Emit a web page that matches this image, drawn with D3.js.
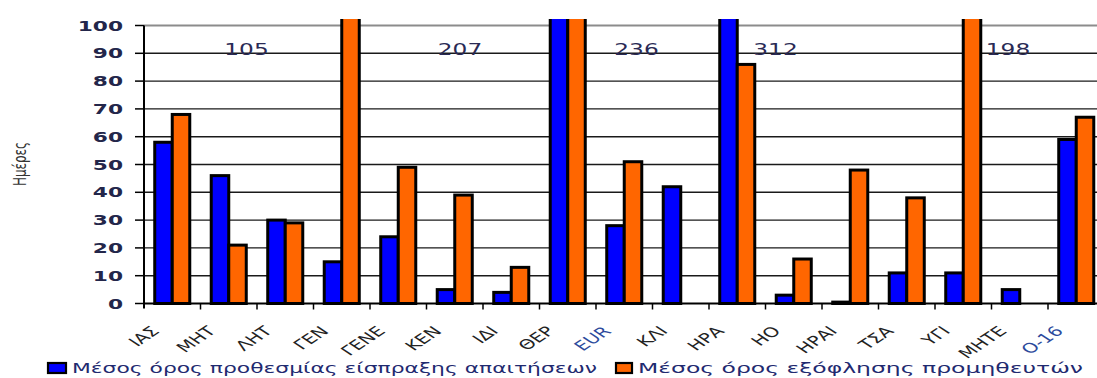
<!DOCTYPE html>
<html>
<head>
<meta charset="utf-8">
<script src="https://cdn.jsdelivr.net/npm/d3@7"></script>
<style>
  html, body { margin: 0; padding: 0; background: #fff; }
  svg { display: block; }
</style>
</head>
<body>
<svg id="chart" width="1097" height="378"></svg>
<script>
// Categories (companies) and the two series, in days
const categories = ["ΙΑΣ", "ΜΗΤ", "ΛΗΤ", "ΓΕΝ", "ΓΕΝΕ", "ΚΕΝ", "ΙΔΙ", "ΘΕΡ", "EUR", "ΚΛΙ",
                    "ΗΡΑ", "ΗΟ", "ΗΡΑΙ", "ΤΣΑ", "ΥΓΙ", "ΜΗΤΕ", "Ο-16"];
const receivableDays = [58, 46, 30, 15, 24, 5, 4, 207, 28, 42, 312, 3, 0.5, 11, 11, 5, 59];
const payableDays    = [68, 21, 29, 105, 49, 39, 13, 236, 51, 0, 86, 16, 48, 38, 198, 0, 67];
const seriesNames = ["Μέσος όρος προθεσμίας είσπραξης απαιτήσεων", "Μέσος όρος εξόφλησης προμηθευτών"];
const yTicks = [0, 10, 20, 30, 40, 50, 60, 70, 80, 90, 100];
const yTitle = "Ημέρες";

const colors = ["#0000ff", "#ff6600"];
const svg = d3.select("#chart");

// plot frame
const plotLeft = 144, bandW = 56.5, plotTop = 25.5, plotBottom = 303.5, plotRight = 1097;
const x = d3.scaleBand().domain(categories).range([plotLeft, plotLeft + bandW * categories.length]).padding(0);
const groupW = x.bandwidth() * 0.62;
const xs = d3.scaleBand().domain([0, 1])
  .range([(x.bandwidth() - groupW) / 2, (x.bandwidth() + groupW) / 2]).padding(0);
const y = d3.scaleLinear().domain([0, 100]).range([plotBottom, plotTop]);

// text placed with an affine matrix: horizontal stretch sx, vertical stretch sy, rotation deg
function wideText(g, str, px, py, opts) {
  const sx = opts.sx || 1, sy = opts.sy || 1;
  const r = (opts.rotate || 0) * Math.PI / 180;
  const c = Math.cos(r), s = Math.sin(r);
  // stretch applied in screen space after rotation
  const m = [sx * c, sy * s, -sx * s, sy * c, px, py].map(v => +v.toFixed(5));
  return g.append("text")
    .attr("transform", `matrix(${m.join(",")})`)
    .attr("font-family", "DejaVu Sans, Verdana, sans-serif")
    .attr("font-size", opts.size)
    .attr("font-weight", opts.weight || "normal")
    .attr("fill", opts.fill || "#222")
    .attr("text-anchor", opts.anchor || "start")
    .text(str);
}

// gridlines
const grid = svg.append("g");
grid.selectAll("line").data(yTicks.filter(v => v > 0 && v < 100)).join("line")
  .attr("x1", plotLeft).attr("x2", plotRight)
  .attr("y1", d => y(d)).attr("y2", d => y(d))
  .attr("stroke", "#1a1a1a").attr("stroke-width", 1.4);
grid.append("line")
  .attr("x1", plotLeft).attr("x2", plotRight).attr("y1", y(100)).attr("y2", y(100))
  .attr("stroke", "#8c8c8c").attr("stroke-width", 2);

// bars
svg.append("clipPath").attr("id", "plotClip")
  .append("rect").attr("x", plotLeft).attr("y", 19).attr("width", plotRight - plotLeft).attr("height", plotBottom - 19 + 3);

const rows = categories.map((c, i) => ({ c, vals: [receivableDays[i], payableDays[i]] }));
const barsG = svg.append("g").attr("clip-path", "url(#plotClip)");
rows.forEach(r => {
  r.vals.forEach((v, s) => {
    if (v <= 0) return;
    barsG.append("rect")
      .attr("x", x(r.c) + xs(s)).attr("width", xs.bandwidth())
      .attr("y", y(v)).attr("height", y(0) - y(v))
      .attr("fill", colors[s])
      .attr("stroke", "#000").attr("stroke-width", 3);
  });
});

// axes
const axisG = svg.append("g");
axisG.append("line").attr("x1", plotLeft).attr("x2", plotRight).attr("y1", y(0)).attr("y2", y(0))
  .attr("stroke", "#000").attr("stroke-width", 2);
axisG.append("line").attr("x1", plotLeft).attr("x2", plotLeft).attr("y1", plotTop).attr("y2", y(0) + 5)
  .attr("stroke", "#000").attr("stroke-width", 2);
axisG.selectAll("line.yt").data(yTicks).join("line").attr("class", "yt")
  .attr("x1", plotLeft - 9).attr("x2", plotLeft).attr("y1", d => y(d)).attr("y2", d => y(d))
  .attr("stroke", "#000").attr("stroke-width", 1.5);
axisG.selectAll("line.xt").data(categories).join("line").attr("class", "xt")
  .attr("x1", d => x(d) + x.bandwidth()).attr("x2", d => x(d) + x.bandwidth())
  .attr("y1", y(0)).attr("y2", y(0) + 6)
  .attr("stroke", "#000").attr("stroke-width", 1.5);

// y tick labels
yTicks.forEach(v => {
  wideText(svg, String(v), 123, y(v) + 5,
    { sx: 1.55, size: 14, weight: "bold", anchor: "end", fill: "#23264a" });
});

// y title, reading bottom to top
wideText(svg, yTitle, 26, 164, { sx: 1.5, rotate: -90, size: 12, anchor: "middle", fill: "#333" });

// category labels at 45 degrees
categories.forEach(c => {
  const latin = c === "EUR" || c === "Ο-16";
  wideText(svg, c, x(c) + x.bandwidth() / 2 - 12, 332,
    { sx: 1.5, rotate: -45, size: 13.5, anchor: "end", fill: latin ? "#2c4a9c" : "#222" });
});

// values of bars running past the top of the scale
const overflowDx = { "ΓΕΝ": [0, -104], "ΘΕΡ": [-99, 60], "ΗΡΑ": [47, 0], "ΥΓΙ": [0, 36] };
rows.forEach(r => {
  r.vals.forEach((v, s) => {
    if (v <= 100) return;
    const cx = x(r.c) + xs(s) + xs.bandwidth() / 2 + overflowDx[r.c][s];
    wideText(svg, String(v), cx, 55, { sx: 1.55, size: 15, anchor: "middle", fill: "#2a2a55" });
  });
});

// legend
const legend = svg.append("g");
const legendPos = [{ sx: 47, sw: 20, tx: 72, tl: 525 }, { sx: 615, sw: 18, tx: 638, tl: 445 }];
seriesNames.forEach((name, i) => {
  const p = legendPos[i];
  legend.append("rect").attr("x", p.sx + 1).attr("y", 363).attr("width", p.sw - 2).attr("height", 10)
    .attr("fill", colors[i]).attr("stroke", "#000").attr("stroke-width", 2.2);
  legend.append("text")
    .attr("x", p.tx).attr("y", 373)
    .attr("font-family", "DejaVu Sans, Verdana, sans-serif")
    .attr("font-size", 14.5).attr("fill", "#1f2a70")
    .attr("textLength", p.tl).attr("lengthAdjust", "spacingAndGlyphs")
    .text(name);
});
</script>
</body>
</html>
